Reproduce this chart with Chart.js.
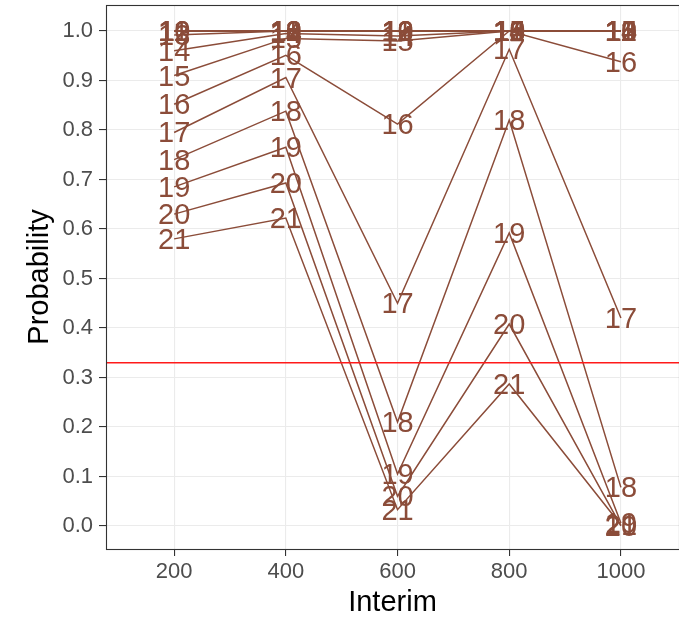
<!DOCTYPE html>
<html>
<head>
<meta charset="utf-8">
<script src="https://cdn.jsdelivr.net/npm/chart.js@4.4.1/dist/chart.umd.min.js"></script>
<style>
  html, body { margin: 0; padding: 0; background: #fff; }
  #wrap { width: 679px; height: 620px; }
</style>
</head>
<body>
<div id="wrap"><canvas id="probChart" width="679" height="620"></canvas></div>
<script>
// interim sample sizes (x) and tick labels
const interims = [200, 400, 600, 800, 1000];
const yTickLabels = ['0.0', '0.1', '0.2', '0.3', '0.4', '0.5', '0.6', '0.7', '0.8', '0.9', '1.0'];
const threshold = 0.33;

// probability per label, one value per interim
const p10 = [1.000, 1.000, 1.000, 1.000, 1.000];
const p11 = [1.000, 1.000, 1.000, 1.000, 1.000];
const p12 = [1.000, 1.000, 1.000, 1.000, 1.000];
const p13 = [0.992, 1.000, 1.000, 1.000, 1.000];
const p14 = [0.960, 0.995, 0.990, 1.000, 1.000];
const p15 = [0.910, 0.985, 0.980, 1.000, 1.000];
const p16 = [0.852, 0.951, 0.812, 1.000, 0.938];
const p17 = [0.795, 0.906, 0.450, 0.963, 0.420];
const p18 = [0.740, 0.838, 0.210, 0.820, 0.078];
const p19 = [0.685, 0.765, 0.105, 0.592, 0.006];
const p20 = [0.630, 0.693, 0.060, 0.408, 0.000];
const p21 = [0.580, 0.622, 0.033, 0.287, 0.002];

const seriesNames = ['10', '11', '12', '13', '14', '15', '16', '17', '18', '19', '20', '21'];
const seriesValues = [p10, p11, p12, p13, p14, p15, p16, p17, p18, p19, p20, p21];

const BROWN = '#8B4C39';
const FONT = "'Liberation Sans', Arial, sans-serif";

const datasets = seriesNames.map(function (name, i) {
    return {
        label: name,
        data: interims.map((x, j) => ({ x: x, y: seriesValues[i][j] })),
        borderColor: BROWN,
        borderWidth: 1.5,
        pointRadius: 0,
        fill: false,
        tension: 0
    };
});

// ggplot-like panel: border, red reference line, text labels at each point
const panelPlugin = {
    id: 'panelPlugin',
    afterDatasetsDraw(chart) {
        const ctx = chart.ctx;
        const area = chart.chartArea;
        const xs = chart.scales.x;
        const ys = chart.scales.y;

        // red threshold line
        const yy = ys.getPixelForValue(threshold);
        ctx.save();
        ctx.strokeStyle = '#FF1A1A';
        ctx.lineWidth = 1.5;
        ctx.beginPath();
        ctx.moveTo(area.left, yy);
        ctx.lineTo(area.right, yy);
        ctx.stroke();

        // number labels
        ctx.fillStyle = BROWN;
        ctx.font = '29px ' + FONT;
        ctx.textAlign = 'center';
        ctx.textBaseline = 'middle';
        seriesNames.forEach(function (name, i) {
            seriesValues[i].forEach(function (v, j) {
                const px = xs.getPixelForValue(interims[j]);
                const py = ys.getPixelForValue(v);
                ctx.fillText(name, px, py + 2);
            });
        });

        // panel border
        ctx.strokeStyle = '#333333';
        ctx.lineWidth = 1.1;
        ctx.strokeRect(area.left + 0.5, area.top + 0.5, area.right - area.left, area.bottom - area.top);
        ctx.restore();
    }
};

new Chart(document.getElementById('probChart'), {
    type: 'line',
    data: { datasets: datasets },
    options: {
        responsive: false,
        animation: false,
        layout: { padding: { top: 5, right: 0, left: 0, bottom: 0 } },
        plugins: {
            legend: { display: false },
            tooltip: { enabled: false }
        },
        scales: {
            x: {
                type: 'linear',
                min: 78,
                max: 1104,
                afterBuildTicks: function (axis) {
                    axis.ticks = interims.map(v => ({ value: v }));
                },
                afterFit: function (axis) {
                    axis.height = 71;
                    axis.paddingLeft = 0;
                    axis.paddingRight = 0;
                },
                border: { display: false },
                grid: {
                    color: '#EBEBEB',
                    lineWidth: 1.1,
                    tickColor: '#333333',
                    tickLength: 7
                },
                ticks: {
                    color: '#4D4D4D',
                    font: { size: 22, family: FONT },
                    padding: 3,
                    maxRotation: 0,
                    callback: v => String(v)
                },
                title: {
                    display: true,
                    text: 'Interim',
                    color: '#000',
                    font: { size: 29, family: FONT },
                    padding: { top: 0, bottom: 0 }
                }
            },
            y: {
                type: 'linear',
                min: -0.0465,
                max: 1.0525,
                afterBuildTicks: function (axis) {
                    const t = [];
                    for (let i = 0; i <= 20; i++) t.push({ value: i * 0.05 });
                    axis.ticks = t;
                },
                afterFit: function (axis) {
                    axis.width = 106;
                    axis.paddingTop = 0;
                    axis.paddingBottom = 0;
                },
                border: { display: false },
                grid: {
                    color: '#EBEBEB',
                    lineWidth: c => (c.index % 2 === 0 ? 1.1 : 0.55),
                    tickColor: c => (c.index % 2 === 0 ? '#333333' : 'rgba(0,0,0,0)'),
                    tickLength: 7
                },
                ticks: {
                    color: '#4D4D4D',
                    font: { size: 22, family: FONT },
                    padding: 6,
                    callback: function (v, i) {
                        return i % 2 === 0 ? yTickLabels[i / 2] : '';
                    }
                },
                title: {
                    display: true,
                    text: 'Probability',
                    color: '#000',
                    font: { size: 29, family: FONT },
                    padding: { top: 23, bottom: 0 }
                }
            }
        }
    },
    plugins: [panelPlugin]
});
</script>
</body>
</html>
